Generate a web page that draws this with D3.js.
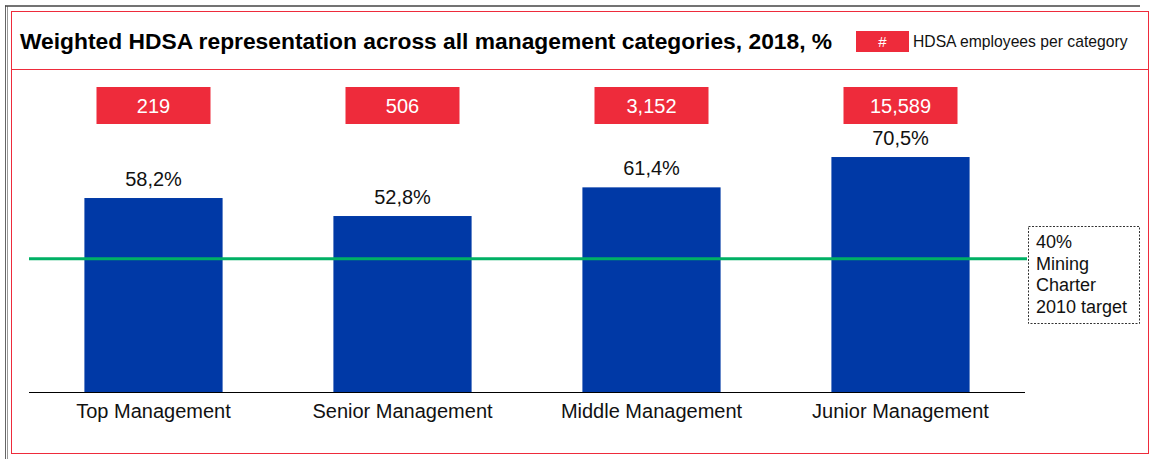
<!DOCTYPE html>
<html>
<head>
<meta charset="utf-8">
<script src="https://cdn.jsdelivr.net/npm/d3@7"></script>
<style>
  html, body { margin: 0; padding: 0; background: #fff; }
  svg { display: block; font-family: "Liberation Sans", Arial, sans-serif; }
</style>
</head>
<body>
<div id="chart"></div>
<script>
// chart data
const categories = ["Top Management", "Senior Management", "Middle Management", "Junior Management"];
const shares = [58.2, 52.8, 61.4, 70.5];
const employees = ["219", "506", "3,152", "15,589"];
const targetValue = 40;
const targetLines = ["40%", "Mining", "Charter", "2010 target"];

const width = 1150, height = 459;
const red = "#ee2b3b", blue = "#0039a6", green = "#00b065";

const svg = d3.select("#chart").append("svg")
    .attr("width", width)
    .attr("height", height);

// outer grey frame (left and top only, like the clipped slide)
svg.append("line").attr("x1", 5.5).attr("y1", 5.5).attr("x2", 5.5).attr("y2", height)
    .attr("stroke", "#666").attr("stroke-width", 1);
svg.append("line").attr("x1", 7.5).attr("y1", 6).attr("x2", 7.5).attr("y2", height)
    .attr("stroke", "#999").attr("stroke-width", 1);
svg.append("line").attr("x1", 5).attr("y1", 6).attr("x2", 1140).attr("y2", 6)
    .attr("stroke", "#444").attr("stroke-width", 1.5);

// red panel frame and title separator
svg.append("rect")
    .attr("x", 11.5).attr("y", 11.5)
    .attr("width", 1137).attr("height", 442)
    .attr("fill", "none")
    .attr("stroke", red)
    .attr("stroke-width", 1);
svg.append("line").attr("x1", 12).attr("x2", 1148).attr("y1", 69.5).attr("y2", 69.5)
    .attr("stroke", red).attr("stroke-width", 1);

// title
svg.append("text")
    .attr("x", 20).attr("y", 49)
    .attr("font-size", "22.8px")
    .attr("font-weight", "bold")
    .attr("fill", "#000")
    .text("Weighted HDSA representation across all management categories, 2018, %");

// legend
const legend = svg.append("g").attr("transform", "translate(856,31)");
legend.append("rect").attr("width", 53).attr("height", 21).attr("fill", red);
legend.append("text")
    .attr("x", 26.5).attr("y", 16)
    .attr("text-anchor", "middle")
    .attr("fill", "#fff")
    .attr("font-size", "15px")
    .text("#");
legend.append("text")
    .attr("x", 57).attr("y", 16)
    .attr("font-size", "15.7px")
    .attr("fill", "#111")
    .text("HDSA employees per category");

// scales
const x = d3.scaleBand()
    .domain(categories)
    .range([29, 1025])
    .paddingInner(0.445)
    .paddingOuter(0.2225);

const y = d3.scaleLinear()
    .domain([0, 100])
    .range([392, 58.7]);

const rows = categories.map((c, i) => ({ cat: c, share: shares[i], n: employees[i] }));

// bars
svg.append("g").selectAll("rect")
    .data(rows)
    .join("rect")
    .attr("x", d => x(d.cat))
    .attr("y", d => y(d.share))
    .attr("width", x.bandwidth())
    .attr("height", d => y(0) - y(d.share))
    .attr("fill", blue);

// value labels
svg.append("g").selectAll("text")
    .data(rows)
    .join("text")
    .attr("x", d => x(d.cat) + x.bandwidth() / 2)
    .attr("y", d => y(d.share) - 12)
    .attr("text-anchor", "middle")
    .attr("font-size", "20px")
    .attr("fill", "#111")
    .text(d => d3.format(".1f")(d.share).replace(".", ",") + "%");

// employee count boxes
const boxW = 114, boxH = 37;
const boxes = svg.append("g").selectAll("g")
    .data(rows)
    .join("g")
    .attr("transform", d => `translate(${x(d.cat) + x.bandwidth() / 2 - boxW / 2},87)`);
boxes.append("rect").attr("width", boxW).attr("height", boxH).attr("fill", red);
boxes.append("text")
    .attr("x", boxW / 2).attr("y", 26)
    .attr("text-anchor", "middle")
    .attr("font-size", "20px")
    .attr("fill", "#fff")
    .text(d => d.n);

// x axis
const xAxis = svg.append("g")
    .attr("transform", `translate(0,${y(0)})`)
    .call(d3.axisBottom(x).tickSize(0).tickPadding(12));
xAxis.select(".domain").attr("stroke", "#000").attr("d", "M29,0.5H1025");
xAxis.selectAll("text")
    .attr("font-family", "Liberation Sans, Arial, sans-serif")
    .attr("font-size", "20px")
    .attr("fill", "#111")
    .attr("dy", "0.71em");

// 40% target line
svg.append("line")
    .attr("x1", 29).attr("x2", 1027)
    .attr("y1", y(targetValue)).attr("y2", y(targetValue))
    .attr("stroke", green)
    .attr("stroke-width", 3);

// target note box
const note = svg.append("g").attr("transform", "translate(1028,226)");
note.append("rect")
    .attr("x", 0.5).attr("y", 0.5)
    .attr("width", 111).attr("height", 97)
    .attr("fill", "#fff")
    .attr("stroke", "#333")
    .attr("stroke-width", 1)
    .attr("stroke-dasharray", "2,1.5");
note.append("text")
    .attr("font-size", "18px")
    .attr("fill", "#111")
    .selectAll("tspan")
    .data(targetLines)
    .join("tspan")
    .attr("x", 8)
    .attr("y", (d, i) => 22 + i * 21.7)
    .text(d => d);
</script>
</body>
</html>
